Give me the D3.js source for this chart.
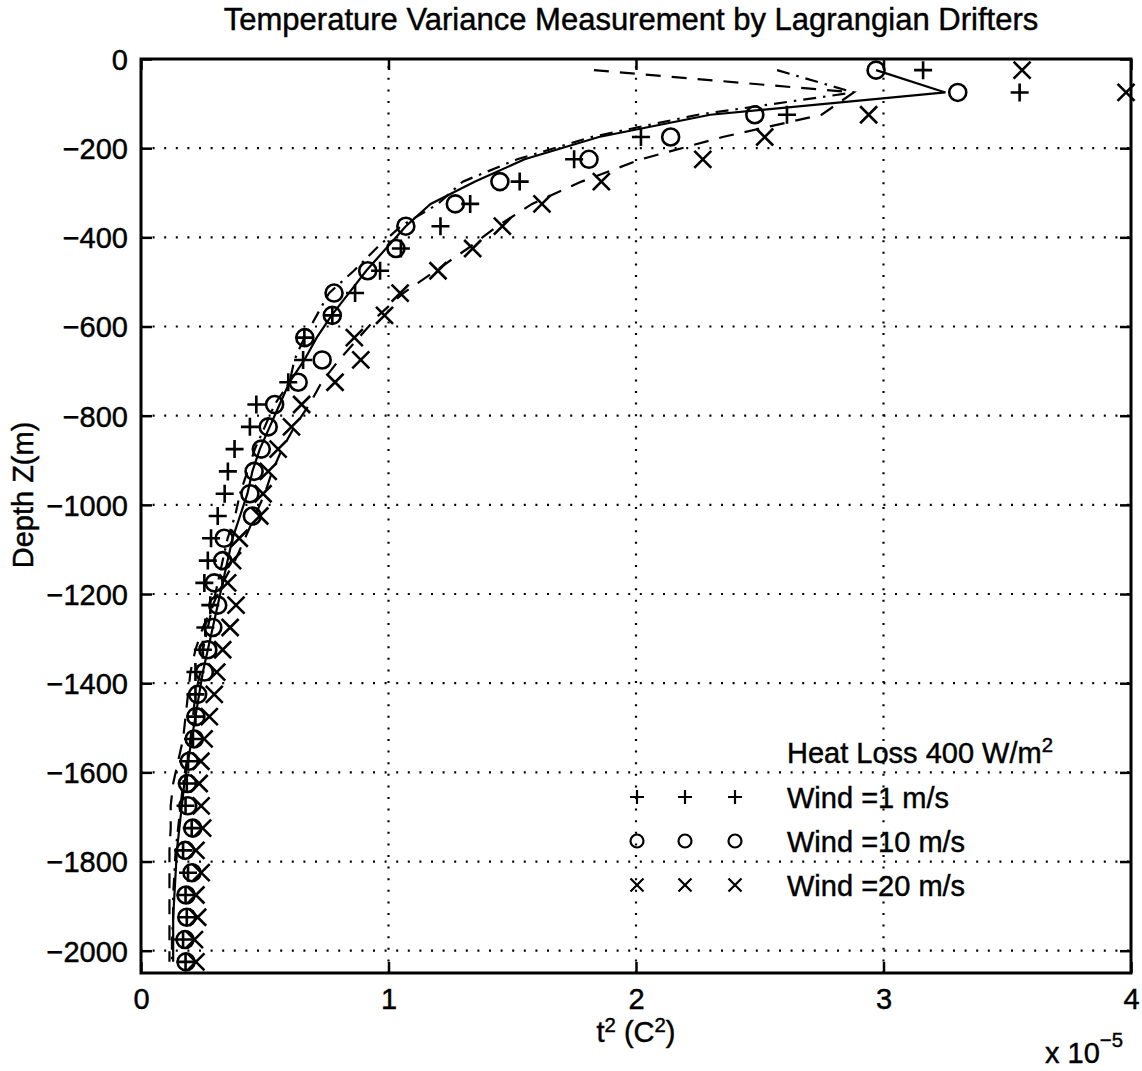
<!DOCTYPE html>
<html><head><meta charset="utf-8">
<script src="https://cdn.jsdelivr.net/npm/d3@7/dist/d3.min.js"></script>
<style>
html,body{margin:0;padding:0;background:#fff;}
text{font-family:"Liberation Sans",Arial,Helvetica,sans-serif;fill:#000;stroke:#000;stroke-width:0.45px;}
</style></head>
<body>
<svg id="chart" width="1142" height="1071"></svg>
<script>
// ---------- DATA (temperature variance in units of 1e-5 C^2) ----------
const depths = [-25,-75,-125,-175,-225,-275,-325,-375,-425,-475,-525,-575,-625,-675,-725,-775,-825,-875,-925,-975,
  -1025,-1075,-1125,-1175,-1225,-1275,-1325,-1375,-1425,-1475,-1525,-1575,-1625,-1675,-1725,-1775,-1825,-1875,-1925,-1975,-2025];
const wind1 = [3.16,3.55,2.61,2.02,1.75,1.53,1.33,1.21,1.05,0.966,0.865,0.773,0.66,0.655,0.595,0.466,0.44,0.378,0.351,0.338,
  0.31,0.283,0.27,0.256,0.28,0.26,0.25,0.22,0.22,0.22,0.21,0.19,0.185,0.18,0.205,0.17,0.19,0.18,0.185,0.17,0.18];
const wind10 = [2.97,3.30,2.48,2.14,1.81,1.45,1.27,1.07,1.03,0.916,0.78,0.773,0.662,0.732,0.635,0.54,0.514,0.486,0.457,0.44,
  0.45,0.336,0.33,0.296,0.31,0.29,0.27,0.256,0.229,0.222,0.215,0.195,0.188,0.189,0.209,0.179,0.206,0.182,0.185,0.178,0.182];
const wind20 = [3.56,3.98,2.94,2.52,2.27,1.86,1.62,1.46,1.34,1.20,1.047,0.984,0.862,0.888,0.784,0.649,0.608,0.554,0.514,0.493,
  0.48,0.397,0.37,0.35,0.384,0.36,0.33,0.306,0.296,0.276,0.255,0.242,0.235,0.243,0.249,0.222,0.243,0.222,0.229,0.216,0.222];
// profile curves
const solidLine = [2.97,3.25,2.30,1.85,1.55,1.35,1.17,1.07,0.99,0.91,0.84,0.77,0.71,0.66,0.60,0.56,0.52,0.48,0.45,0.43,
  0.40,0.37,0.35,0.33,0.31,0.29,0.27,0.25,0.235,0.22,0.205,0.19,0.175,0.165,0.155,0.145,0.14,0.135,0.13,0.13,0.13];
const dashDotLine = [2.57,2.88,2.25,1.82,1.52,1.30,1.20,1.05,0.95,0.86,0.76,0.71,0.66,0.62,0.60,0.54,0.50,0.46,0.43,0.40,
  0.38,0.35,0.33,0.31,0.29,0.27,0.25,0.24,0.22,0.21,0.20,0.185,0.17,0.16,0.15,0.14,0.135,0.13,0.13,0.125,0.125];
const dashedLine = [1.83,2.88,2.75,2.35,2.02,1.78,1.58,1.44,1.32,1.19,1.06,0.96,0.88,0.80,0.73,0.68,0.62,0.57,0.53,0.50,
  0.46,0.42,0.38,0.33,0.29,0.25,0.22,0.20,0.19,0.18,0.17,0.15,0.13,0.12,0.12,0.115,0.115,0.115,0.115,0.115,0.115];
const xTicks = [0,1,2,3,4];
const yTicks = [-2000,-1800,-1600,-1400,-1200,-1000,-800,-600,-400,-200,0];
const legendTitle = "Heat Loss 400 W/m";
const legendLabels = ["Wind =1 m/s","Wind =10 m/s","Wind =20 m/s"];
const titleText = "Temperature Variance Measurement by Lagrangian Drifters";

// ---------- LAYOUT ----------
const L = 141, R = 1131, T = 59, B = 973;
const svg = d3.select("#chart");
const x = d3.scaleLinear().domain([0,4]).range([L,R]);
const y = d3.scaleLinear().domain([-2050,0]).range([B,T]);
const FS = 29;

// grid
const grid = svg.append("g").attr("stroke","#000").attr("stroke-width",2.2)
  .attr("stroke-dasharray","2,9.6").attr("fill","none");
xTicks.forEach(v=>{ if(v>0&&v<4) grid.append("line").attr("x1",x(v)).attr("x2",x(v)).attr("y1",B).attr("y2",T); });
yTicks.forEach(v=>{ if(v<0) grid.append("line").attr("x1",L).attr("x2",R).attr("y1",y(v)).attr("y2",y(v)); });

// axes via d3 axis (ticks inside)
const fmtY = d=> d<0 ? "\u2212"+Math.abs(d) : String(d);
const axL = svg.append("g").attr("transform",`translate(${L},0)`)
  .call(d3.axisLeft(y).tickValues(yTicks).tickSize(-11).tickPadding(13).tickFormat(fmtY));
const axR = svg.append("g").attr("transform",`translate(${R},0)`)
  .call(d3.axisRight(y).tickValues(yTicks).tickSize(-11).tickFormat(""));
const axB = svg.append("g").attr("transform",`translate(0,${B})`)
  .call(d3.axisBottom(x).tickValues(xTicks).tickSize(-11).tickPadding(15).tickFormat(d3.format("d")));
const axT = svg.append("g").attr("transform",`translate(0,${T})`)
  .call(d3.axisTop(x).tickValues(xTicks).tickSize(-11).tickFormat(""));
[axL,axR,axB,axT].forEach(a=>{
  a.selectAll(".domain").remove();
  a.selectAll(".tick line").attr("stroke","#000").attr("stroke-width",2.5);
  a.selectAll("text").attr("font-size",FS).attr("font-family","Liberation Sans, Arial, sans-serif").attr("fill","#000");
});
axL.selectAll("text").attr("dy","0.36em");
svg.append("rect").attr("x",L).attr("y",T).attr("width",R-L).attr("height",B-T)
  .attr("fill","none").attr("stroke","#000").attr("stroke-width",3);

// lines
const lineGen = arr => d3.line().x((d,i)=>x(arr[i])).y(d=>y(d))(depths);
const lines = svg.append("g").attr("fill","none").attr("stroke","#000").attr("stroke-width",2.2);
lines.append("path").attr("d",lineGen(solidLine));
lines.append("path").attr("d",lineGen(dashDotLine)).attr("stroke-dasharray","13,7,2.5,7");
lines.append("path").attr("d",lineGen(dashedLine)).attr("stroke-dasharray","15,11");

// markers
function plus(g,cx,cy,s){ g.append("path").attr("d",`M${cx-s},${cy}H${cx+s}M${cx},${cy-s}V${cy+s}`); }
function circ(g,cx,cy,r){ g.append("circle").attr("cx",cx).attr("cy",cy).attr("r",r); }
function cross(g,cx,cy,s){ g.append("path").attr("d",`M${cx-s},${cy-s}L${cx+s},${cy+s}M${cx-s},${cy+s}L${cx+s},${cy-s}`); }
const mk = svg.append("g").attr("fill","none").attr("stroke","#000").attr("stroke-width",2.6);
depths.forEach((d,i)=>{
  plus(mk,x(wind1[i]),y(d),9);
  circ(mk,x(wind10[i]),y(d),8.5);
  cross(mk,x(wind20[i]),y(d),8.5);
});

// legend
const lg = svg.append("g");
const lgX = 787;
const lt = lg.append("text").attr("x",lgX).attr("y",763).attr("font-size",FS).text(legendTitle);
lt.append("tspan").attr("font-size",FS*0.7).attr("dy",-11).text("2");
const rowsY = [808,852,896];
const lgMk = lg.append("g").attr("fill","none").attr("stroke","#000").attr("stroke-width",2.2);
const mxs = [637,685,735];
legendLabels.forEach((t,i)=>{
  lg.append("text").attr("x",lgX).attr("y",rowsY[i]).attr("font-size",FS).text(t);
  mxs.forEach(mx=>{
    const cy = rowsY[i]-11;
    if(i===0) plus(lgMk,mx,cy,7);
    else if(i===1) circ(lgMk,mx,cy,6.5);
    else cross(lgMk,mx,cy,6.5);
  });
});

// title and labels
svg.append("text").attr("x",631).attr("y",30).attr("text-anchor","middle")
  .attr("font-size",31).text(titleText);
svg.append("text").attr("transform",`translate(33,495) rotate(-90)`)
  .attr("text-anchor","middle").attr("font-size",FS).text("Depth Z(m)");
const xl = svg.append("text").attr("x",(L+R)/2).attr("y",1042).attr("text-anchor","middle").attr("font-size",FS);
xl.append("tspan").text("t");
xl.append("tspan").attr("font-size",FS*0.7).attr("dy",-10).text("2");
xl.append("tspan").attr("dy",10).text(" (C");
xl.append("tspan").attr("font-size",FS*0.7).attr("dy",-10).text("2");
xl.append("tspan").attr("dy",10).text(")");
const ex = svg.append("text").attr("x",1045).attr("y",1063).attr("font-size",FS);
ex.append("tspan").text("x 10");
ex.append("tspan").attr("font-size",FS*0.7).attr("dy",-16).text("\u22125");
</script>
</body></html>
